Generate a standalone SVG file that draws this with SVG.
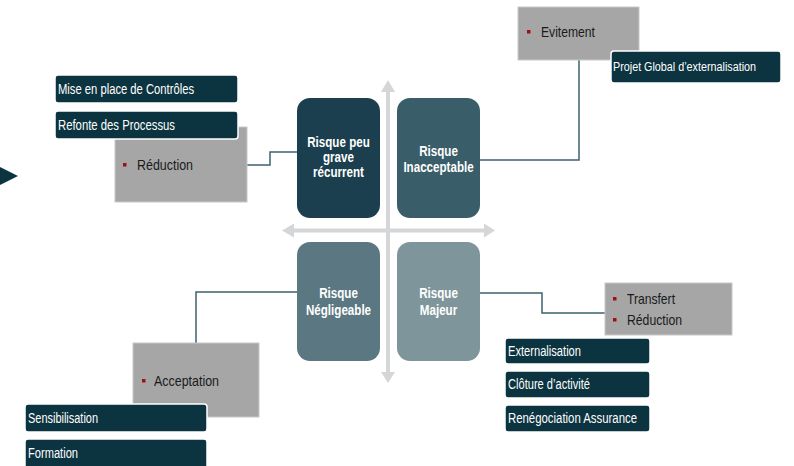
<svg xmlns="http://www.w3.org/2000/svg" width="794" height="466" viewBox="0 0 794 466">
<style>
.q{font-family:"Liberation Sans",Arial,sans-serif;font-weight:bold;font-size:14.5px;fill:#ffffff;text-anchor:middle}
.d{fill:#0c3440;stroke:#ffffff;stroke-width:1.5}
.dt{font-family:"Liberation Sans",Arial,sans-serif;font-size:14px;fill:#ffffff}
.g{fill:#a6a6a6;stroke:#c8c8c8;stroke-width:1}
.gt{font-family:"Liberation Sans",Arial,sans-serif;font-size:15px;fill:#1a1a1a}
.b{fill:#a01010}
.c{fill:none;stroke:#3c6270;stroke-width:1.5}
</style>
<rect width="794" height="466" fill="#ffffff"/>
<polygon points="0,167 18,176 0,185" fill="#0c3440"/>
<g id="axes" fill="#d4d6d8">
<rect x="386" y="90" width="4" height="284"/>
<polygon points="381,92 388,80 395,92"/>
<polygon points="381,372 388,383 395,372"/>
<rect x="292" y="228.5" width="194" height="4"/>
<polygon points="294,223.5 282,230.5 294,237.5"/>
<polygon points="484,223.5 495,230.5 484,237.5"/>
</g>
<g id="connectors">
<polyline class="c" points="247,165 270,165 270,152 297,152"/>
<polyline class="c" points="480,160 579,160 579,60"/>
<polyline class="c" points="297,292 196,292 196,343"/>
<polyline class="c" points="480,293 542,293 542,313 605,313"/>
</g>
<g id="q-tl"><rect x="297" y="98" width="83" height="120" rx="13" fill="#1b3f4e"/>
<text class="q" transform="translate(338.5,147) scale(0.8,1)">Risque peu</text><text class="q" transform="translate(338.5,162) scale(0.8,1)">grave</text><text class="q" transform="translate(338.5,177) scale(0.8,1)">récurrent</text></g>
<g id="q-tr"><rect x="397" y="98" width="83" height="120" rx="13" fill="#3a5e69"/>
<text class="q" transform="translate(438.5,156) scale(0.8,1)">Risque</text><text class="q" transform="translate(438.5,172) scale(0.8,1)">Inacceptable</text></g>
<g id="q-bl"><rect x="297" y="242" width="83" height="119" rx="13" fill="#5b7882"/>
<text class="q" transform="translate(338.5,298) scale(0.8,1)">Risque</text><text class="q" transform="translate(338.5,315) scale(0.8,1)">Négligeable</text></g>
<g id="q-br"><rect x="397" y="242" width="83" height="119" rx="13" fill="#7e959b"/>
<text class="q" transform="translate(438.5,298) scale(0.8,1)">Risque</text><text class="q" transform="translate(438.5,315) scale(0.8,1)">Majeur</text></g>
<g id="reduction-l"><rect class="g" x="115" y="127" width="132" height="75"/>
<rect class="b" x="123" y="163" width="3.5" height="3.5"/><text class="gt" x="137" y="170" textLength="56" lengthAdjust="spacingAndGlyphs">Réduction</text></g>
<g id="mise"><rect class="d" x="55" y="75" width="183" height="28" rx="3"/><text class="dt" x="58" y="94" textLength="136" lengthAdjust="spacingAndGlyphs">Mise en place de Contrôles</text></g>
<g id="refonte"><rect class="d" x="55" y="111" width="183" height="28" rx="3"/><text class="dt" x="58" y="130" textLength="117" lengthAdjust="spacingAndGlyphs">Refonte des Processus</text></g>
<g id="evitement"><rect class="g" x="518" y="7" width="121" height="53"/>
<rect class="b" x="527" y="30" width="3.5" height="3.5"/><text class="gt" x="541" y="37" textLength="54" lengthAdjust="spacingAndGlyphs">Evitement</text></g>
<g id="projet"><rect class="d" x="611" y="51" width="170" height="32" rx="3"/><text class="dt" x="613" y="71" font-size="12" textLength="143" lengthAdjust="spacingAndGlyphs" style="font-size:12px">Projet Global d’externalisation</text></g>
<g id="transfert"><rect class="g" x="605" y="283" width="127" height="52"/>
<rect class="b" x="613" y="297" width="3.5" height="3.5"/><text class="gt" x="627" y="304" textLength="48" lengthAdjust="spacingAndGlyphs">Transfert</text>
<rect class="b" x="613" y="318" width="3.5" height="3.5"/><text class="gt" x="627" y="325" textLength="55" lengthAdjust="spacingAndGlyphs">Réduction</text></g>
<g id="externalisation"><rect class="d" x="505" y="338" width="145" height="26" rx="3"/><text class="dt" x="508" y="356" textLength="73" lengthAdjust="spacingAndGlyphs">Externalisation</text></g>
<g id="cloture"><rect class="d" x="505" y="371" width="145" height="27" rx="3"/><text class="dt" x="508" y="389" textLength="82" lengthAdjust="spacingAndGlyphs">Clôture d’activité</text></g>
<g id="renegociation"><rect class="d" x="505" y="405" width="145" height="27" rx="3"/><text class="dt" x="508" y="423" textLength="129" lengthAdjust="spacingAndGlyphs">Renégociation Assurance</text></g>
<g id="acceptation"><rect class="g" x="133" y="343" width="126" height="74"/>
<rect class="b" x="142" y="379" width="3.5" height="3.5"/><text class="gt" x="154" y="386" textLength="65" lengthAdjust="spacingAndGlyphs">Acceptation</text></g>
<g id="sensibilisation"><rect class="d" x="25" y="404" width="182" height="28" rx="3"/><text class="dt" x="28" y="423" textLength="70" lengthAdjust="spacingAndGlyphs">Sensibilisation</text></g>
<g id="formation"><rect class="d" x="25" y="439" width="182" height="30" rx="3"/><text class="dt" x="28" y="458" textLength="50" lengthAdjust="spacingAndGlyphs">Formation</text></g>
</svg>
